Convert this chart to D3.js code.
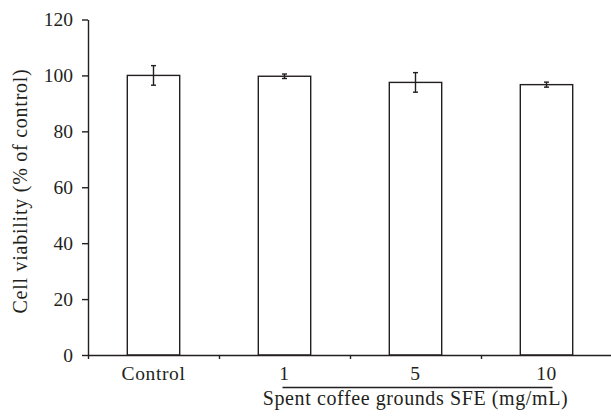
<!DOCTYPE html>
<html>
<head>
<meta charset="utf-8">
<script src="https://cdn.jsdelivr.net/npm/d3@7"></script>
<style>
  html, body { margin: 0; padding: 0; background: #fff; }
  svg { display: block; }
  text { font-family: "Liberation Serif", "DejaVu Serif", serif; fill: #231f20; }
</style>
</head>
<body>
<svg id="chart" width="611" height="419"></svg>
<script>
const categories = ["Control", "1", "5", "10"];
const values = [100, 99.7, 97.5, 96.7];
const errors = [3.5, 0.8, 3.5, 0.9];
const yTicks = [0, 20, 40, 60, 80, 100, 120];
const yTitle = "Cell viability (% of control)";
const groupTitle = "Spent coffee grounds SFE (mg/mL)";

const svg = d3.select("#chart");
const ink = "#231f20";
const serif = '"Liberation Serif", serif';

const x = d3.scaleBand().domain(categories).range([88, 612]).padding(0);
const y = d3.scaleLinear().domain([0, 120]).range([355, 19.5]);
const barW = x.bandwidth() * 0.4;

// Bars
svg.append("g").selectAll("rect").data(categories).join("rect")
  .attr("x", d => x(d) + (x.bandwidth() - barW) / 2)
  .attr("y", (d, i) => y(values[i]))
  .attr("width", barW)
  .attr("height", (d, i) => y(0) - y(values[i]))
  .attr("fill", "#fff")
  .attr("stroke", ink)
  .attr("stroke-width", 1.4);

// Error bars
const eg = svg.append("g").attr("stroke", ink).attr("stroke-width", 1.4);
categories.forEach((d, i) => {
  const cx = x(d) + x.bandwidth() / 2;
  const top = y(values[i] + errors[i]);
  const bot = y(values[i] - errors[i]);
  eg.append("line").attr("x1", cx).attr("x2", cx).attr("y1", top).attr("y2", bot);
  eg.append("line").attr("x1", cx - 2.5).attr("x2", cx + 2.5).attr("y1", top).attr("y2", top);
  eg.append("line").attr("x1", cx - 2.5).attr("x2", cx + 2.5).attr("y1", bot).attr("y2", bot);
});

// Y axis
const yAxis = svg.append("g")
  .attr("transform", `translate(${x.range()[0]},0)`)
  .call(d3.axisLeft(y).tickValues(yTicks).tickSize(6).tickSizeOuter(0).tickPadding(9));
yAxis.attr("font-family", serif);
yAxis.select(".domain").attr("stroke", ink).attr("stroke-width", 1.4);
yAxis.selectAll(".tick line").attr("stroke", ink).attr("stroke-width", 1.4);
yAxis.selectAll(".tick text")
  .style("font-family", serif)
  .attr("font-size", 19.5).attr("fill", ink);

// X axis (boundary ticks)
const xb = d3.scaleLinear().domain([0, categories.length]).range(x.range());
const xAxisB = svg.append("g")
  .attr("transform", `translate(0,${y(0)})`)
  .call(d3.axisBottom(xb).ticks(categories.length).tickSize(4).tickSizeOuter(0).tickFormat(""));
xAxisB.select(".domain").attr("stroke", ink).attr("stroke-width", 1.6);
xAxisB.selectAll(".tick line").attr("stroke", ink).attr("stroke-width", 1.4);

// Category labels
const xAxisL = svg.append("g")
  .attr("transform", `translate(0,${y(0)})`)
  .call(d3.axisBottom(x).tickSize(0).tickPadding(11));
xAxisL.attr("font-family", serif);
xAxisL.select(".domain").remove();
xAxisL.selectAll(".tick text")
  .style("font-family", serif)
  .style("letter-spacing", "0.6px")
  .attr("font-size", 19.5).attr("fill", ink);

// Group bracket
const c1 = x(categories[1]) + x.bandwidth() / 2;
const c3 = x(categories[3]) + x.bandwidth() / 2;
svg.append("line")
  .attr("x1", c1 - 2).attr("x2", c3 + 6)
  .attr("y1", 387.5).attr("y2", 387.5)
  .attr("stroke", ink).attr("stroke-width", 1.4);
svg.append("text")
  .attr("x", (c1 + c3) / 2)
  .attr("y", 405)
  .attr("text-anchor", "middle")
  .attr("font-size", 20)
  .style("letter-spacing", "0.6px")
  .text(groupTitle);

// Y title
svg.append("text")
  .attr("transform", `translate(27,191) rotate(-90)`)
  .attr("text-anchor", "middle")
  .attr("font-size", 20)
  .style("letter-spacing", "0.75px")
  .text(yTitle);
</script>
</body>
</html>
